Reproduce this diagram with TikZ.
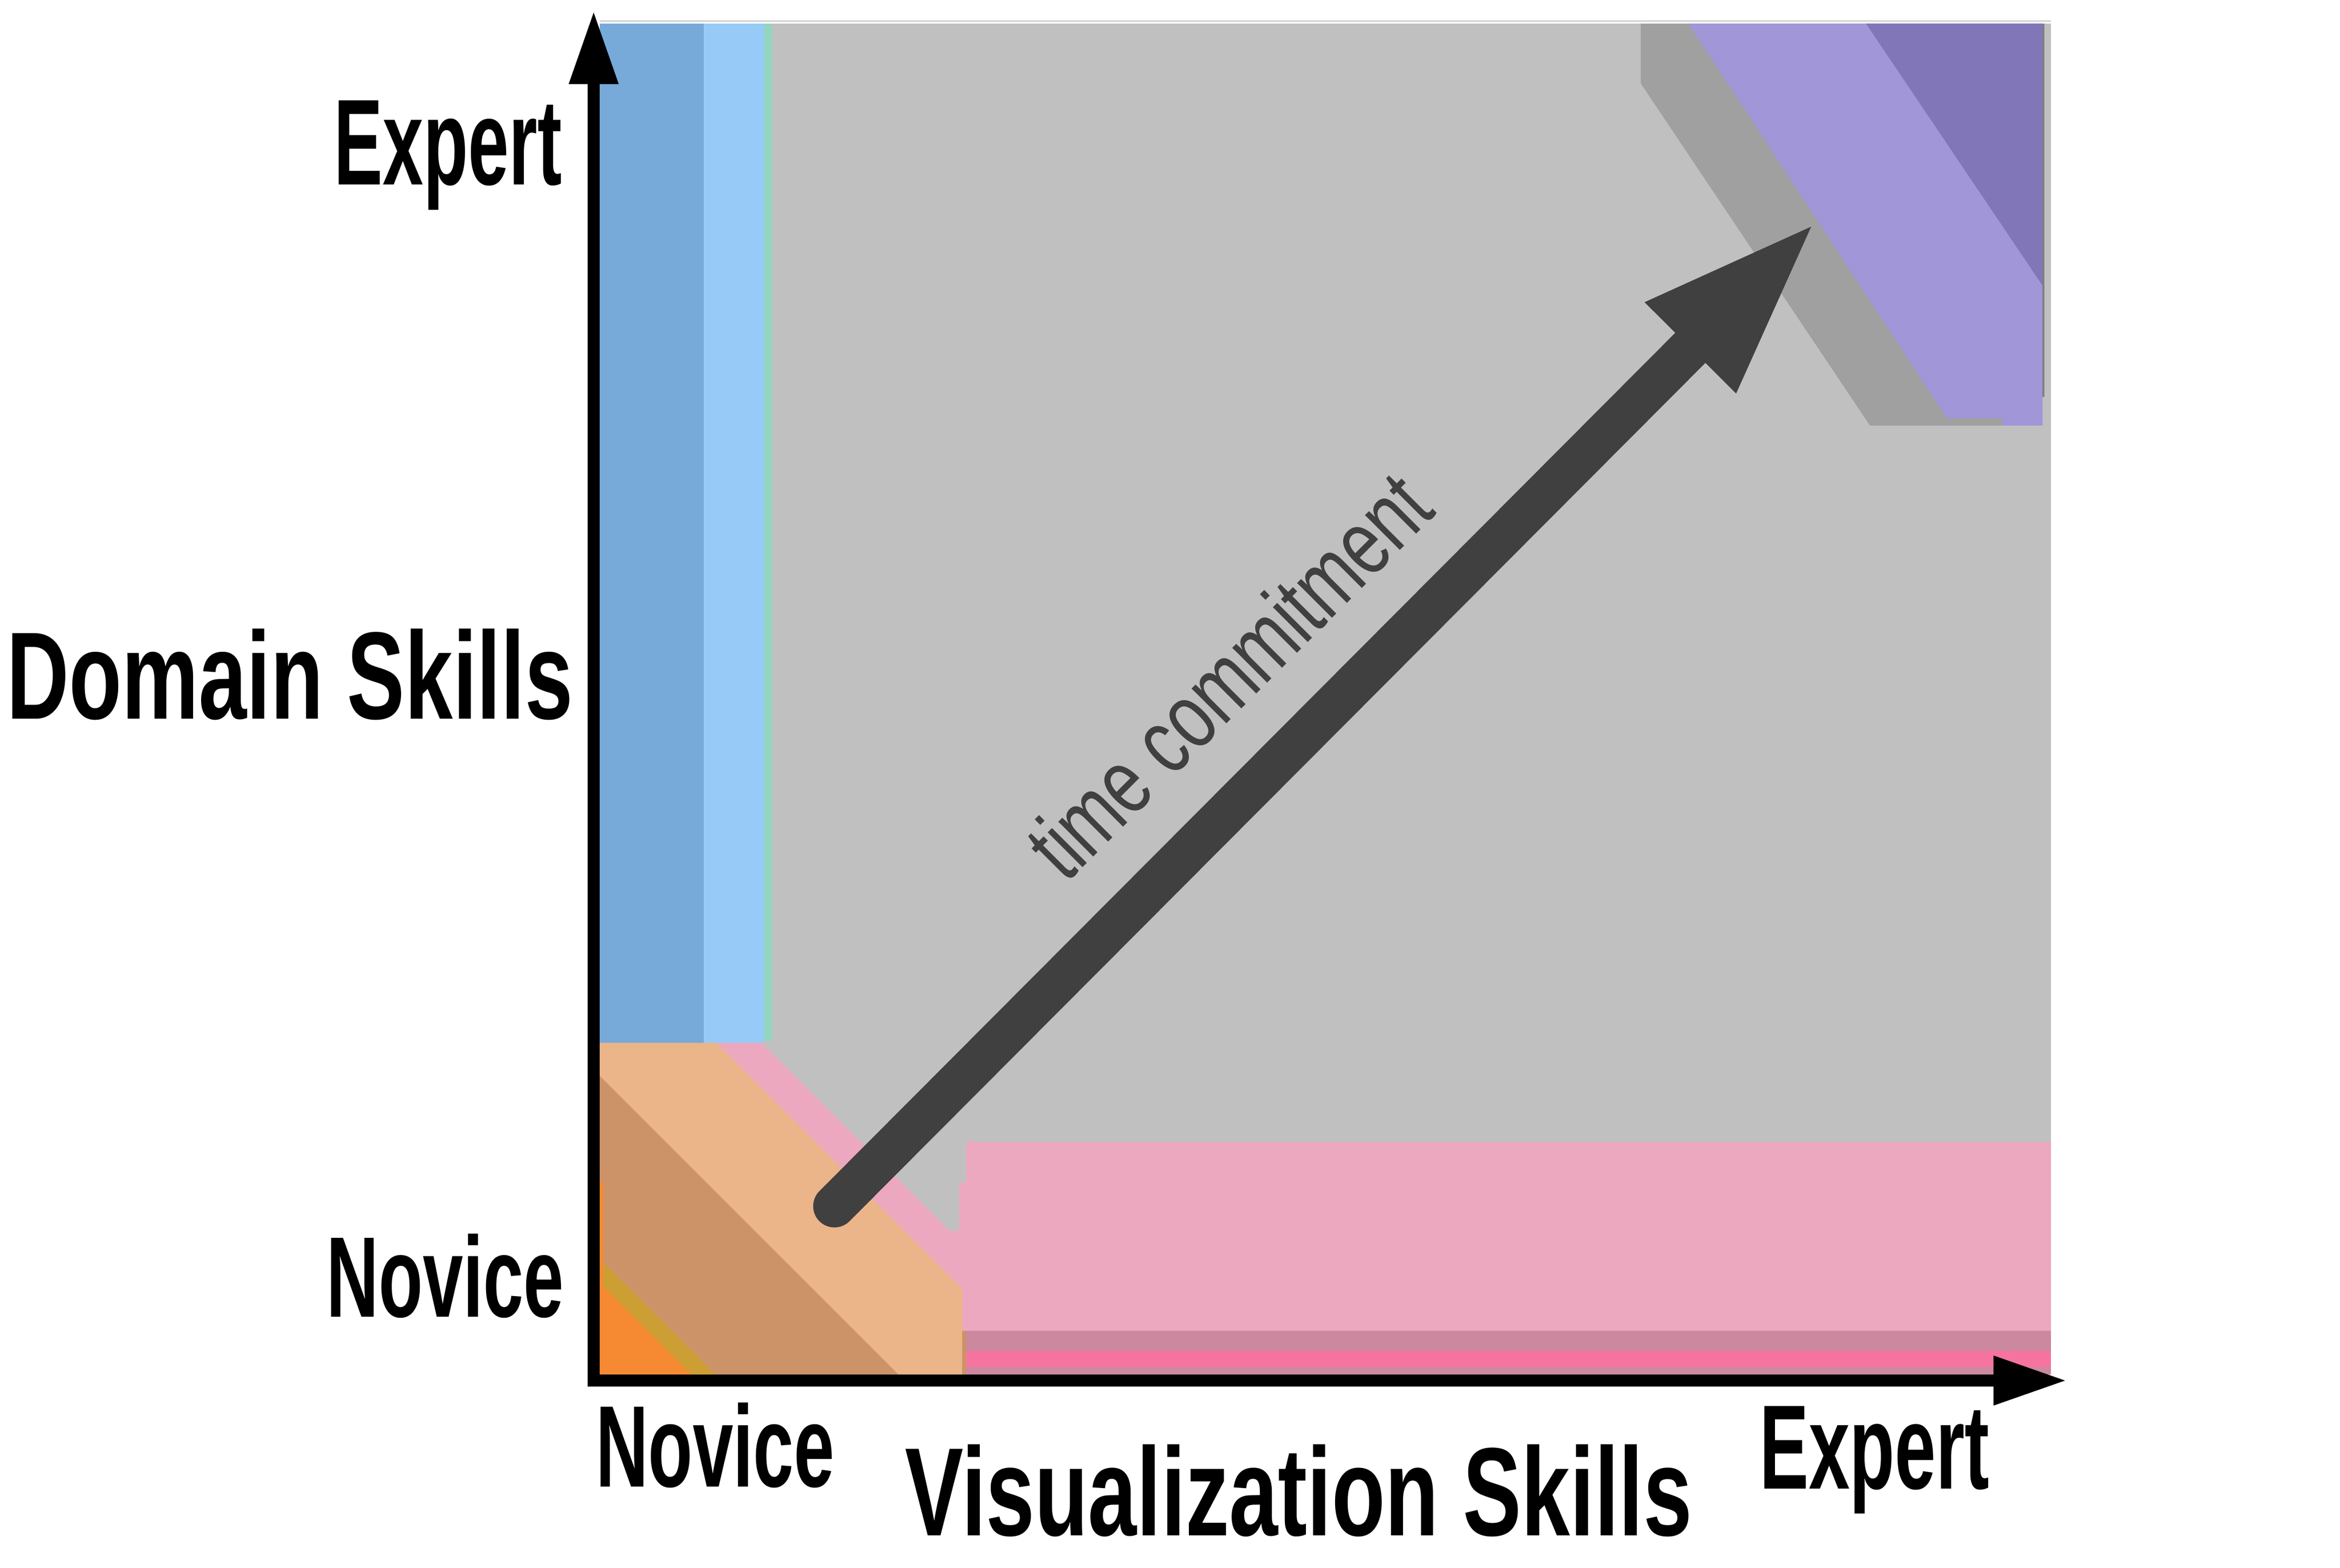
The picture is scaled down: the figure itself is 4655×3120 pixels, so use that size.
\documentclass[tikz,border=0pt]{standalone}
\usepackage{fontspec}
\setmainfont{Liberation Sans}
\usepackage{graphicx}
\usetikzlibrary{arrows.meta}
\newdimen\mypx \mypx=0.0944882pt
\definecolor{plotgray}{HTML}{C0C0C0}
\definecolor{bandgray}{HTML}{A0A0A0}
\definecolor{bluedark}{HTML}{77AAD8}
\definecolor{bluelight}{HTML}{97CAF6}
\definecolor{bluegreen}{HTML}{93D5BF}
\definecolor{peach}{HTML}{ECB489}
\definecolor{darkpeach}{HTML}{CC9369}
\definecolor{goldx}{HTML}{CC9E33}
\definecolor{orangex}{HTML}{F68A33}
\definecolor{pinkx}{HTML}{ECA8BF}
\definecolor{darkpink}{HTML}{CC889F}
\definecolor{hotpink}{HTML}{F7739F}
\definecolor{lpurple}{HTML}{A096D8}
\definecolor{dpurple}{HTML}{8076B8}
\definecolor{arrowgray}{HTML}{404040}
\begin{document}
\begin{tikzpicture}[x=0.0333333mm,y=-0.0333333mm,
  lbl/.style={inner sep=0pt, outer sep=0pt, text=black, font=\bfseries},
  tlbl/.style={inner sep=0pt, outer sep=0pt, text=arrowgray, font=\mdseries},
  axisline/.style={line width=2.36pt, {Triangle[length=13.5pt,width=9.45pt,line width=0pt]}-{Triangle[length=13.5pt,width=9.45pt,line width=0pt]}},
  timearrow/.style={color=arrowgray, line width=8.03pt, line cap=round, -{Triangle[length=32.3pt,width=24.4pt,line width=0pt]}}]
\useasboundingbox (0,0) rectangle (4655,3120);
\fill[white] (0,0) rectangle (4655,3120);
% plot background
\fill[plotgray] (1193,47) rectangle (4080,2735);
\draw[line width=0.38pt, color=black!15] (1193,42) -- (4080,42);
% blue bands (left)
\fill[bluedark] (1193,47) rectangle (1400,2075);
\fill[bluelight] (1400,47) rectangle (1520,2075);
\fill[bluegreen] (1520,47) rectangle (1536,2070);
% lower-left corner regions
\fill[peach] (1193,2075) -- (1425,2075) -- (1914,2564) -- (1914,2735) -- (1193,2735) -- cycle;
\fill[darkpeach] (1193,2141) -- (1787,2735) -- (1193,2735) -- cycle;
\fill[goldx] (1193,2505) -- (1423,2735) -- (1193,2735) -- cycle;
\fill[orangex] (1193,2553) -- (1375,2735) -- (1193,2735) -- cycle;
\fill[orangex] (1193,2352) rectangle (1200,2735);
% pink regions (bottom)
\fill[pinkx] (1425,2075) -- (1515,2075) -- (1889,2449) -- (1908,2449) -- (1908,2353)
  -- (1922,2353) -- (1922,2272) -- (4080,2272) -- (4080,2648) -- (1914,2648) -- (1914,2564) -- cycle;
\fill[darkpink] (1922,2648) rectangle (4080,2735);
\fill[hotpink] (1922,2688) rectangle (4080,2720);
\fill[darkpeach] (1914,2648) rectangle (1922,2735);
% purple regions (top right)
\fill[bandgray] (3264,47) -- (4063,47) -- (4063,847) -- (3720,847) -- (3264,166) -- cycle;
\fill[lpurple] (3359,47) -- (4063,47) -- (4063,847) -- (3983,847) -- (3983,832) -- (3873,832) -- cycle;
\fill[dpurple] (3712,47) -- (4063,47) -- (4063,568) -- cycle;
\draw[line width=0.38pt, color=black!50] (4065,47) -- (4065,790);
% axes
\coordinate (ytip) at (1181,25);
\coordinate (origin) at (1181,2747);
\coordinate (xtip) at (4108,2747);
\draw[axisline] (ytip) -- (origin) -- (xtip);
% time commitment arrow
\coordinate (ts) at (1660,2400);
\coordinate (te) at (3603,451);
\draw[timearrow] (ts) -- (te);
% labels
\node[lbl, anchor=base east] (yexp) at (1118,368) {\resizebox{455\mypx}{168\mypx}{Expert}};
\node[lbl, anchor=base east] (ydom) at (1140,1430) {\resizebox{1131\mypx}{180\mypx}{Domain Skills}};
\node[lbl, anchor=base east] (ynov) at (1122,2620) {\resizebox{474\mypx}{166\mypx}{Novice}};
\node[lbl, anchor=base west] (xnov) at (1185,2958) {\resizebox{477\mypx}{168\mypx}{Novice}};
\node[lbl, anchor=base west] (xvis) at (1800,3055) {\resizebox{1572\mypx}{182\mypx}{Visualization Skills}};
\node[lbl, anchor=base west] (xexp) at (3500,2962) {\resizebox{459\mypx}{165\mypx}{Expert}};
\node[tlbl, anchor=base, rotate=45] (tc) at (2490,1390) {\resizebox{1050\mypx}{135\mypx}{time commitment}};
\end{tikzpicture}
\end{document}
